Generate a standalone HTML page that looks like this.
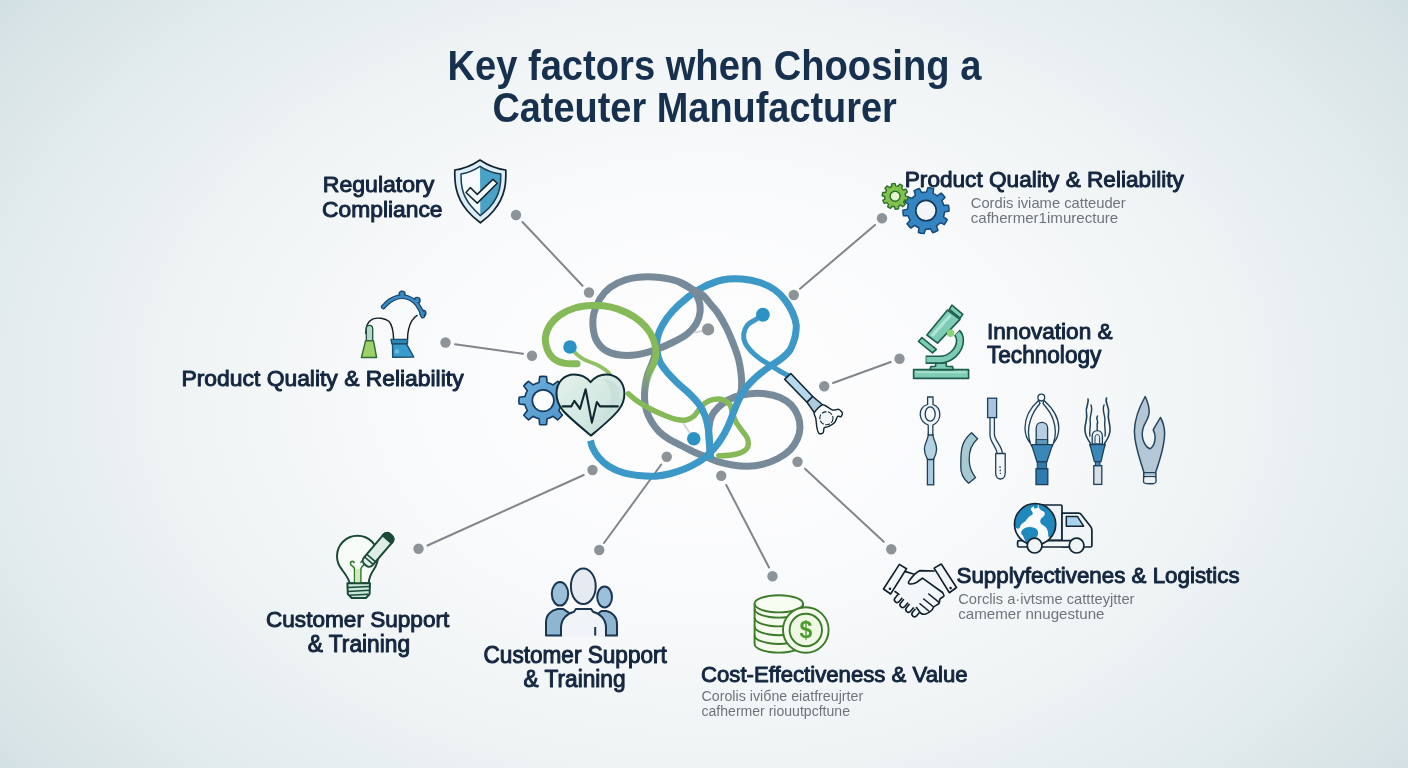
<!DOCTYPE html>
<html><head><meta charset="utf-8"><title>Key factors when Choosing a Catheter Manufacturer</title>
<style>
html,body{margin:0;padding:0;}
body{width:1408px;height:768px;overflow:hidden;background:#e9eff1;font-family:"Liberation Sans",sans-serif;}
#bg{position:absolute;left:0;top:0;width:1408px;height:768px;
background: radial-gradient(ellipse 915px 640px at 704px 390px, rgb(253.0,253.0,254.0) 0.0%, rgb(252.9,252.9,254.0) 4.2%, rgb(252.7,252.8,253.8) 8.3%, rgb(252.3,252.5,253.6) 12.5%, rgb(251.8,252.2,253.2) 16.7%, rgb(251.1,251.7,252.8) 20.8%, rgb(250.3,251.1,252.2) 25.0%, rgb(249.3,250.5,251.6) 29.2%, rgb(248.1,249.7,250.8) 33.3%, rgb(246.8,248.8,250.0) 37.5%, rgb(245.4,247.8,249.1) 41.7%, rgb(243.8,246.7,248.0) 45.8%, rgb(242.0,245.5,246.9) 50.0%, rgb(240.1,244.2,245.7) 54.2%, rgb(238.1,242.8,244.3) 58.3%, rgb(235.9,241.3,242.9) 62.5%, rgb(233.5,239.7,241.4) 66.7%, rgb(231.0,238.0,239.8) 70.8%, rgb(228.3,236.2,238.0) 75.0%, rgb(225.5,234.3,236.2) 79.2%, rgb(222.5,232.3,234.3) 83.3%, rgb(219.4,230.1,232.3) 87.5%, rgb(216.1,227.9,230.2) 91.7%, rgb(212.7,225.6,227.9) 95.8%, rgb(209.1,223.1,225.6) 100.0%);}
svg{position:absolute;left:0;top:0;will-change:transform;}
</style></head>
<body>
<div id="bg"></div>
<svg width="1408" height="768" viewBox="0 0 1408 768">
<g id="conn">
<line x1="522.5" y1="222" x2="582.5" y2="285.75" stroke="#80868c" stroke-width="2" stroke-linecap="round"/>
<circle cx="516" cy="215" r="5.2" fill="#8c9399"/>
<circle cx="589" cy="292.5" r="5.2" fill="#8c9399"/>
<line x1="875" y1="225" x2="800" y2="288.75" stroke="#80868c" stroke-width="2" stroke-linecap="round"/>
<circle cx="882" cy="218.25" r="5.2" fill="#8c9399"/>
<circle cx="793.75" cy="295" r="5.2" fill="#8c9399"/>
<line x1="455" y1="344.25" x2="523" y2="353.75" stroke="#80868c" stroke-width="2" stroke-linecap="round"/>
<circle cx="445.5" cy="342.5" r="5.2" fill="#8c9399"/>
<circle cx="532" cy="355.75" r="5.2" fill="#8c9399"/>
<line x1="890.75" y1="362" x2="833" y2="383" stroke="#80868c" stroke-width="2" stroke-linecap="round"/>
<circle cx="899.5" cy="358.75" r="5.2" fill="#8c9399"/>
<circle cx="824.25" cy="386.25" r="5.2" fill="#8c9399"/>
<line x1="427.5" y1="545.5" x2="583.75" y2="475" stroke="#80868c" stroke-width="2" stroke-linecap="round"/>
<circle cx="418.5" cy="548.75" r="5.2" fill="#8c9399"/>
<circle cx="592.5" cy="470" r="5.2" fill="#8c9399"/>
<line x1="604" y1="543" x2="661.25" y2="464.5" stroke="#80868c" stroke-width="2" stroke-linecap="round"/>
<circle cx="599.25" cy="550" r="5.2" fill="#8c9399"/>
<circle cx="666.75" cy="456.75" r="5.2" fill="#8c9399"/>
<line x1="769" y1="567.5" x2="726.25" y2="485" stroke="#80868c" stroke-width="2" stroke-linecap="round"/>
<circle cx="772.5" cy="576.25" r="5.2" fill="#8c9399"/>
<circle cx="721.25" cy="475.75" r="5.2" fill="#8c9399"/>
<line x1="883.75" y1="541.75" x2="805" y2="468.75" stroke="#80868c" stroke-width="2" stroke-linecap="round"/>
<circle cx="891.25" cy="549.25" r="5.2" fill="#8c9399"/>
<circle cx="797.5" cy="461.75" r="5.2" fill="#8c9399"/>
</g>
<defs><linearGradient id="gfade" gradientUnits="userSpaceOnUse" x1="0" y1="366" x2="0" y2="392"><stop offset="0" stop-color="#86b957"/><stop offset="1" stop-color="#86b957" stop-opacity="0"/></linearGradient></defs>
<g id="tangle" fill="none" stroke-linecap="round" stroke-linejoin="round">
<path d="M656 352C655.42 353.75 653.92 358.67 652.5 362.5C651.08 366.33 648.75 370.83 647.5 375C646.25 379.17 645.48 383.33 645 387.5C644.52 391.67 644.35 396.17 644.6 400C644.85 403.83 645.39 406.96 646.5 410.5C647.61 414.04 649.17 417.75 651.25 421.25C653.33 424.75 656.08 428.54 659 431.5C661.92 434.46 664.83 436.54 668.75 439C672.67 441.46 678.12 444 682.5 446.25C686.88 448.5 690.83 450.62 695 452.5C699.17 454.38 703.54 455.93 707.5 457.5C711.46 459.07 714.58 460.65 718.75 461.9C722.92 463.15 727.71 464.27 732.5 465C737.29 465.73 742.5 466.35 747.5 466.25C752.5 466.15 757.5 465.65 762.5 464.4C767.5 463.15 772.92 461.15 777.5 458.75C782.08 456.35 786.67 453.33 790 450C793.33 446.67 795.83 442.5 797.5 438.75C799.17 435 799.9 431.25 800 427.5C800.1 423.75 799.56 420 798.1 416.25C796.64 412.5 794.27 408.12 791.25 405C788.23 401.88 784.38 399.38 780 397.5C775.62 395.62 770 394.38 765 393.75C760 393.12 755 393.23 750 393.75C745 394.27 739.58 395.23 735 396.9C730.42 398.57 726.04 401.15 722.5 403.75C718.96 406.35 715.83 409.58 713.75 412.5C711.67 415.42 710.83 417.92 710 421.25C709.17 424.58 708.85 428.75 708.75 432.5C708.65 436.25 709.14 440 709.4 443.75C709.66 447.5 710.15 453.12 710.3 455" stroke="#778a99" stroke-width="7.0"/>
<path d="M628.5 393.75C630 395 633.92 398.75 637.5 401.25C641.08 403.75 645.62 406.46 650 408.75C654.38 411.04 659.38 413.23 663.75 415C668.12 416.77 672.5 418.57 676.25 419.4C680 420.23 683.33 420.52 686.25 420C689.17 419.48 691.67 417.92 693.75 416.25C695.83 414.58 696.88 412.19 698.75 410C700.62 407.81 702.5 404.87 705 403.1C707.5 401.33 710.83 399.98 713.75 399.4C716.67 398.82 719.79 398.67 722.5 399.6C725.21 400.53 728.33 402.64 730 405C731.67 407.36 731.46 410.83 732.5 413.75C733.54 416.67 734.58 419.58 736.25 422.5C737.92 425.42 740.62 428.54 742.5 431.25C744.38 433.96 746.67 436.04 747.5 438.75C748.33 441.46 748.54 445.21 747.5 447.5C746.46 449.79 743.96 451.25 741.25 452.5C738.54 453.75 735 454.45 731.25 455C727.5 455.55 720.83 455.67 718.75 455.8" stroke="#86b957" stroke-width="5.4"/>
<path d="M795 337.5C795.21 335.42 796.67 329.17 796.25 325C795.83 320.83 794.38 316.67 792.5 312.5C790.62 308.33 787.92 303.75 785 300C782.08 296.25 779.17 292.92 775 290C770.83 287.08 765.5 284.33 760 282.5C754.5 280.67 748.33 279.42 742 279C735.67 278.58 728.58 278.58 722 280C715.42 281.42 708.25 284.58 702.5 287.5C696.75 290.42 692.5 293.54 687.5 297.5C682.5 301.46 676.67 306.67 672.5 311.25C668.33 315.83 665 320.62 662.5 325C660 329.38 658.43 333.33 657.5 337.5C656.57 341.67 656.48 345.92 656.9 350C657.32 354.08 658.32 358.33 660 362C661.68 365.67 664.08 368.5 667 372C669.92 375.5 673.88 379.5 677.5 383C681.12 386.5 685.21 389.5 688.75 393C692.29 396.5 696.04 400.25 698.75 404C701.46 407.75 703.44 411.5 705 415.5C706.56 419.5 707.37 423.92 708.1 428C708.83 432.08 709.08 436.33 709.4 440C709.72 443.67 709.8 447.33 710 450C710.2 452.67 710.5 455 710.6 456" stroke="#3c99c7" stroke-width="7.0"/>
<path d="M600 298.75C602.71 294.38 605.83 290.62 610 287.5C614.17 284.38 619.58 281.77 625 280C630.42 278.23 636.67 277.32 642.5 276.9C648.33 276.48 654.17 276.77 660 277.5C665.83 278.23 672.29 279.38 677.5 281.25C682.71 283.12 687.71 285.62 691.25 288.75C694.79 291.88 697.29 296.04 698.75 300C700.21 303.96 700.42 308.54 700 312.5C699.58 316.46 698.33 320.21 696.25 323.75C694.17 327.29 691.46 330.62 687.5 333.75C683.54 336.88 677.92 339.79 672.5 342.5C667.08 345.21 660.83 347.98 655 350C649.17 352.02 643.33 353.77 637.5 354.6C631.67 355.43 625.42 355.77 620 355C614.58 354.23 608.96 352.5 605 350C601.04 347.5 598.23 343.75 596.25 340C594.27 336.25 593.52 331.88 593.1 327.5C592.68 323.12 592.6 318.54 593.75 313.75C594.9 308.96 597.29 303.12 600 298.75Z" stroke="#778a99" stroke-width="7.0"/>
<path d="M680 282.5C681.88 283.54 687.5 286.67 691.25 288.75C695 290.83 699.17 292.29 702.5 295C705.83 297.71 708.75 302.08 711.25 305C713.75 307.92 715 308.75 717.5 312.5C720 316.25 723.54 322.08 726.25 327.5C728.96 332.92 731.67 339.58 733.75 345C735.83 350.42 737.5 355 738.75 360C740 365 740.77 370.42 741.25 375C741.73 379.58 741.81 384.17 741.6 387.5C741.39 390.83 740.27 393.75 740 395" stroke="#778a99" stroke-width="7.0"/>
<path d="M577 363.75C574.79 363.64 567.62 363.93 563.75 363.1C559.88 362.27 556.46 360.93 553.75 358.75C551.04 356.57 548.89 353.54 547.5 350C546.11 346.46 544.98 341.67 545.4 337.5C545.82 333.33 547.57 328.75 550 325C552.43 321.25 555.83 317.83 560 315C564.17 312.17 569.58 309.57 575 308C580.42 306.43 586.67 305.78 592.5 305.6C598.33 305.42 604.38 305.75 610 306.9C615.62 308.05 621.25 310.11 626.25 312.5C631.25 314.89 636.04 317.92 640 321.25C643.96 324.58 647.5 328.54 650 332.5C652.5 336.46 654.07 340.92 655 345C655.93 349.08 656.02 353.5 655.6 357C655.18 360.5 653.68 363 652.5 366C651.32 369 649.58 372 648.5 375C647.42 378 646.58 381 646 384C645.42 387 645.17 391.5 645 393" stroke="url(#gfade)" stroke-width="7.0"/>
<path d="M570 347C571.17 348.25 574.5 352.33 577 354.5C579.5 356.67 581.58 358.25 585 360C588.42 361.75 593.96 363.23 597.5 365C601.04 366.77 604.17 369.02 606.25 370.6C608.33 372.18 609.38 373.85 610 374.5" stroke="#93c064" stroke-width="3.8"/>
<path d="M590.6 440.5C590.92 441.67 591.14 444.67 592.5 447.5C593.86 450.33 596.04 454.38 598.75 457.5C601.46 460.62 604.79 463.75 608.75 466.25C612.71 468.75 617.5 470.94 622.5 472.5C627.5 474.06 633.33 474.98 638.75 475.6C644.17 476.23 649.79 476.56 655 476.25C660.21 475.94 665 475 670 473.75C675 472.5 680.42 470.62 685 468.75C689.58 466.88 693.96 464.58 697.5 462.5C701.04 460.42 703.54 458.54 706.25 456.25C708.96 453.96 711.25 451.67 713.75 448.75C716.25 445.83 718.96 442.29 721.25 438.75C723.54 435.21 725.62 431.46 727.5 427.5C729.38 423.54 731.04 418.67 732.5 415C733.96 411.33 735 408.42 736.25 405.5C737.5 402.58 738.33 400.5 740 397.5C741.67 394.5 744.08 390.42 746.25 387.5C748.42 384.58 750.71 382.29 753 380C755.29 377.71 757.17 376.04 760 373.75C762.83 371.46 766.46 368.75 770 366.25C773.54 363.75 777.92 361.46 781.25 358.75C784.58 356.04 787.71 353.54 790 350C792.29 346.46 794.17 339.58 795 337.5" stroke="#3c99c7" stroke-width="7.0" stroke-linecap="butt"/>
<path d="M762.9 314.75C761.58 315.62 757.57 318.29 755 320C752.43 321.71 749.38 322.71 747.5 325C745.62 327.29 744.17 330.83 743.75 333.75C743.33 336.67 743.75 339.58 745 342.5C746.25 345.42 748.75 348.54 751.25 351.25C753.75 353.96 756.88 356.46 760 358.75C763.12 361.04 766.67 362.92 770 365C773.33 367.08 777 369.5 780 371.25C783 373 786.67 374.79 788 375.5" stroke="#3c99c7" stroke-width="5"/>
<line x1="689.4" y1="432.5" x2="683.5" y2="423.5" stroke="#cfd7dc" stroke-width="2"/>
<line x1="702" y1="331" x2="695" y2="332.5" stroke="#d3dadf" stroke-width="2"/>
</g>
<circle cx="570" cy="347" r="6.8" fill="#2b93c3"/>
<circle cx="762.9" cy="314.75" r="6.9" fill="#2b93c3"/>
<circle cx="693.75" cy="438.75" r="6.8" fill="#2b93c3"/>
<circle cx="708.1" cy="329.4" r="6.1" fill="#8c9399"/>
<defs><linearGradient id="hgrad" x1="0" y1="0" x2="1" y2="1"><stop offset="0" stop-color="#e3f0ec"/><stop offset="0.55" stop-color="#d3e8e2"/><stop offset="1" stop-color="#bddad3"/></linearGradient><linearGradient id="ggrad" x1="0" y1="0" x2="1" y2="1"><stop offset="0" stop-color="#6fb0dc"/><stop offset="1" stop-color="#4e93c9"/></linearGradient></defs>
<path d="M561.25 396.54L567.06 397.19A24.2 24.2 0 0 1 567.06 404.01L561.25 404.66A18.6 18.6 0 0 1 558.8 410.57L562.45 415.13A24.2 24.2 0 0 1 557.63 419.95L553.07 416.3A18.6 18.6 0 0 1 547.16 418.75L546.51 424.56A24.2 24.2 0 0 1 539.69 424.56L539.04 418.75A18.6 18.6 0 0 1 533.13 416.3L528.57 419.95A24.2 24.2 0 0 1 523.75 415.13L527.4 410.57A18.6 18.6 0 0 1 524.95 404.66L519.14 404.01A24.2 24.2 0 0 1 519.14 397.19L524.95 396.54A18.6 18.6 0 0 1 527.4 390.63L523.75 386.07A24.2 24.2 0 0 1 528.57 381.25L533.13 384.9A18.6 18.6 0 0 1 539.04 382.45L539.69 376.64A24.2 24.2 0 0 1 546.51 376.64L547.16 382.45A18.6 18.6 0 0 1 553.07 384.9L557.63 381.25A24.2 24.2 0 0 1 562.45 386.07L558.8 390.63A18.6 18.6 0 0 1 561.25 396.54Z" fill="url(#ggrad)" stroke="#153a5e" stroke-width="1.6" stroke-linejoin="round"/>
<circle cx="543.1" cy="400.6" r="10.8" fill="#fbfdfe" stroke="#153a5e" stroke-width="1.7"/>
<path d="M591 435.6 C580 426.5 569 417.5 562.5 410 C558.2 404.5 556.5 400 556.5 393.5 C556.5 382 564.5 374.4 574 374.4 C581 374.4 587 377.6 590.6 382.2 C594.2 377.6 600 374.4 606.5 374.4 C616.5 374.4 624.4 382 624.4 393.5 C624.4 400 622.5 405 619 409.5 C612.5 418 602 426.5 591 435.6Z" fill="url(#hgrad)" stroke="#0f2a33" stroke-width="2" stroke-linejoin="round"/>
<path d="M603 379 C612 379 619.5 385 619.5 394 C619.5 400 617 404.5 613 409 L600 422 L593 428 C604 418 611 409 611 397 C611 389 608 383 603 379Z" fill="#c3ddd7" opacity="0.75"/>
<polyline points="562.5,406.4 571.2,406.4 574.4,400.8 580,408.8 585.6,389.2 591.9,422.6 596.9,402 600,406.4 617.8,406.4" fill="none" stroke="#10282f" stroke-width="2.1" stroke-linejoin="round" stroke-linecap="round"/>
<g id="icons">
<path d="M480 160 C472 165.5 464 168.8 454.8 170 C454.6 178 455 183 456.2 188.5 C458 197 462 204.5 467.5 211 C471.5 215.8 476 219.5 480.4 222.8 C485 219.5 489.5 215.8 493.4 211 C498.8 204.5 502.8 197 504.6 188.5 C505.8 183 506 178 505.8 170 C496.5 168.8 488 165.5 480 160Z" fill="#dceef7" stroke="#14232e" stroke-width="1.7" stroke-linejoin="round"/>
<path d="M480 166.3 C474 170.3 468 172.8 461 174 C460.9 180 461.2 184 462.2 188.5 C463.7 195.3 466.8 201 471.3 206.3 C474.2 209.8 477.2 212.8 480.3 215.6Z" fill="#f5fafc"/>
<path d="M480 166.3 C486 170.3 492.5 172.8 500.8 174 C500.9 180 500.6 184 499.6 188.5 C498.1 195.3 495 201 490.5 206.3 C487.6 209.8 483.6 213 480.3 215.6Z" fill="#4aa2c6"/>
<path d="M480 166.3 C474 170.3 468 172.8 461 174 C460.9 180 461.2 184 462.2 188.5 C463.7 195.3 466.8 201 471.3 206.3 C474.2 209.8 477.2 212.8 480.3 215.6 C483.6 213 487.6 209.8 490.5 206.3 C495 201 498.1 195.3 499.6 188.5 C500.6 184 500.9 180 500.8 174 C492.5 172.8 486 170.3 480 166.3Z" fill="none" stroke="#1c3d55" stroke-width="1.5" stroke-linejoin="round"/>
<polygon points="466,192.5 470.4,187.6 477.25,194.4 492.9,179.4 497.25,183.3 477.25,203.1" fill="#f4f9fc" stroke="#14232e" stroke-width="1.5" stroke-linejoin="round"/>
<path d="M943.84 205.34L948.49 205.33A23.1 23.1 0 0 1 949.09 211.08L944.54 212.04A18.6 18.6 0 0 1 943.53 216.83L947.3 219.55A23.1 23.1 0 0 1 944.4 224.57L940.16 222.66A18.6 18.6 0 0 1 936.52 225.94L937.97 230.36A23.1 23.1 0 0 1 932.68 232.71L930.36 228.68A18.6 18.6 0 0 1 925.49 229.19L924.07 233.62A23.1 23.1 0 0 1 918.4 232.42L918.9 227.79A18.6 18.6 0 0 1 914.66 225.34L910.91 228.09A23.1 23.1 0 0 1 907.03 223.78L910.15 220.34A18.6 18.6 0 0 1 908.16 215.86L903.51 215.87A23.1 23.1 0 0 1 902.91 210.12L907.46 209.16A18.6 18.6 0 0 1 908.47 204.37L904.7 201.65A23.1 23.1 0 0 1 907.6 196.63L911.84 198.54A18.6 18.6 0 0 1 915.48 195.26L914.03 190.84A23.1 23.1 0 0 1 919.32 188.49L921.64 192.52A18.6 18.6 0 0 1 926.51 192.01L927.93 187.58A23.1 23.1 0 0 1 933.6 188.78L933.1 193.41A18.6 18.6 0 0 1 937.34 195.86L941.09 193.11A23.1 23.1 0 0 1 944.97 197.42L941.85 200.86A18.6 18.6 0 0 1 943.84 205.34Z" fill="#3485c1" stroke="#164a78" stroke-width="1.5" stroke-linejoin="round"/>
<circle cx="926" cy="210.6" r="10.2" fill="#f3f6f9" stroke="#143a5c" stroke-width="1.6"/>
<path d="M905.5 196.09L907.99 196.85A12.9 12.9 0 0 1 907.4 200.19L904.8 200.05A10.4 10.4 0 0 1 903.64 202.24L905.2 204.32A12.9 12.9 0 0 1 902.76 206.68L900.74 205.04A10.4 10.4 0 0 1 898.51 206.12L898.56 208.73A12.9 12.9 0 0 1 895.2 209.2L894.53 206.68A10.4 10.4 0 0 1 892.09 206.25L890.59 208.39A12.9 12.9 0 0 1 887.6 206.79L888.53 204.36A10.4 10.4 0 0 1 886.81 202.58L884.35 203.43A12.9 12.9 0 0 1 882.86 200.38L885.05 198.96A10.4 10.4 0 0 1 884.7 196.51L882.21 195.75A12.9 12.9 0 0 1 882.8 192.41L885.4 192.55A10.4 10.4 0 0 1 886.56 190.36L885 188.28A12.9 12.9 0 0 1 887.44 185.92L889.46 187.56A10.4 10.4 0 0 1 891.69 186.48L891.64 183.87A12.9 12.9 0 0 1 895 183.4L895.67 185.92A10.4 10.4 0 0 1 898.11 186.35L899.61 184.21A12.9 12.9 0 0 1 902.6 185.81L901.67 188.24A10.4 10.4 0 0 1 903.39 190.02L905.85 189.17A12.9 12.9 0 0 1 907.34 192.22L905.15 193.64A10.4 10.4 0 0 1 905.5 196.09Z" fill="#80c24b" stroke="#2f6d2e" stroke-width="1.4" stroke-linejoin="round"/>
<circle cx="895.1" cy="196.3" r="5" fill="#e6f5cd" stroke="#2f6d2e" stroke-width="1.5"/>
<path d="M365.8 334 C365.6 327 367 322 372.5 319.2 C377 317.6 384 317.6 388.8 321.3 C392.5 325 393.3 331 393.6 339" fill="none" stroke="#111e26" stroke-width="1.4"/>
<path d="M407.5 339.4 C407.6 332 409 325.5 411.8 320.8 C413.5 318.2 415 316.8 417.5 315.2" fill="none" stroke="#111e26" stroke-width="1.4"/>
<path d="M366.3 341 L366.3 328.6 C366.3 324.2 372.7 324.2 372.7 328.6 L372.7 341Z" fill="#b4d8c6" stroke="#24503f" stroke-width="1.3"/>
<polygon points="361.4,357.5 376.6,357.5 373.5,340.7 365.6,340.7" fill="#9dd069" stroke="#2f6b3a" stroke-width="1.4" stroke-linejoin="round"/>
<polygon points="392.5,343.6 406.3,343.6 413.8,357 392.7,357.3" fill="#3a9acb" stroke="#17506e" stroke-width="1.4" stroke-linejoin="round"/>
<polygon points="391,339.4 407.6,339.4 407.4,343.8 391.9,343.8" fill="#2f84b6" stroke="#17506e" stroke-width="1.4" stroke-linejoin="round"/>
<circle cx="397" cy="351.5" r="2.2" fill="#6fc6ea" opacity="0.8"/>
<circle cx="402.1" cy="294.2" r="3" fill="#3d8bbf" stroke="#17466f" stroke-width="1.3"/>
<circle cx="417.1" cy="300.4" r="3" fill="#3d8bbf" stroke="#17466f" stroke-width="1.3"/>
<circle cx="422.9" cy="313.2" r="3" fill="#3d8bbf" stroke="#17466f" stroke-width="1.3"/>
<path d="M383.3 306.9C384.42 305.85 387.43 302.27 390 300.6C392.57 298.93 395.83 297.42 398.75 296.9C401.67 296.38 404.79 296.67 407.5 297.5C410.21 298.33 412.92 300.02 415 301.9C417.08 303.77 418.7 306.4 420 308.75C421.3 311.1 422.33 314.79 422.8 316" fill="none" stroke="#17466f" stroke-width="4.9" stroke-linecap="round"/>
<path d="M383.3 306.9C384.42 305.85 387.43 302.27 390 300.6C392.57 298.93 395.83 297.42 398.75 296.9C401.67 296.38 404.79 296.67 407.5 297.5C410.21 298.33 412.92 300.02 415 301.9C417.08 303.77 418.7 306.4 420 308.75C421.3 311.1 422.33 314.79 422.8 316" fill="none" stroke="#3d8bbf" stroke-width="2.5" stroke-linecap="round"/>
<circle cx="402.1" cy="294.6" r="1.9" fill="#3d8bbf"/>
<circle cx="416.8" cy="300.8" r="1.9" fill="#3d8bbf"/>
<circle cx="422.4" cy="313.4" r="1.9" fill="#3d8bbf"/>
<rect x="913.6" y="369.6" width="55" height="8.8" fill="#7fccb6" stroke="#1c5d4e" stroke-width="1.6" stroke-linejoin="round"/>
<rect x="915.5" y="371.2" width="51" height="2" fill="#b9e8d9" opacity="0.7"/>
<path d="M930 369.6 L930.8 366.6 L935.6 366.2 L935.6 363 L946.3 363 L946.3 366.2 L952.6 366.6 L953.4 369.6Z" fill="#7fccb6" stroke="#1c5d4e" stroke-width="1.6" stroke-linejoin="round"/>
<path d="M925.6 359.7 L940 359.7 C950 359.5 959.8 351 960 340.5 C960.1 337 958.8 334.4 956.9 332.6" fill="none" stroke="#1c5d4e" stroke-width="8.4" stroke-linecap="butt" stroke-linejoin="round"/>
<path d="M926.4 359.7 L940 359.7 C950 359.5 959.8 351 960 340.5 C960.1 337 958.8 334.8 957.4 333.3" fill="none" stroke="#7fccb6" stroke-width="5.2" stroke-linecap="butt"/>
<polygon points="947.5,310 960,319.4 937.5,343.1 926.9,335" fill="#7fccb6" stroke="#1c5d4e" stroke-width="1.6" stroke-linejoin="round"/>
<polygon points="949.2,314.2 951.7,316 933,337 930.5,335.2" fill="#b9e8d9" opacity="0.85"/>
<polygon points="951.9,305.2 962.8,314.4 960,318.2 949.3,309.4" fill="#7fccb6" stroke="#1c5d4e" stroke-width="1.6" stroke-linejoin="round"/>
<polygon points="921.9,337.5 936.3,349.4 932.5,352.8 918.5,341.5" fill="#7fccb6" stroke="#1c5d4e" stroke-width="1.6" stroke-linejoin="round"/>
<circle cx="950.6" cy="333.2" r="3.7" fill="#8fd07b"/>
<rect x="927.4" y="458" width="6.3" height="26.8" fill="#a9cbe0" stroke="#1d3f57" stroke-width="1.3"/>
<path d="M928.3 434 C928.4 440 924.4 442.5 924.4 449 C924.4 454 926.5 457.5 927.6 459.5 L933.4 459.5 C934.5 457.5 936.6 454 936.6 449 C936.6 442.5 932.9 440 932.8 434 Z" fill="#b4d2e3" stroke="#1d3f57" stroke-width="1.3" stroke-linejoin="round"/>
<path d="M927.6 397 L927.6 404.5 C922.5 406 920.2 410 920.2 414.5 C920.2 419.5 924 423.5 928.2 425 L928.3 435 L932.8 435 L932.9 425 C936.5 423.5 939.8 419.5 939.8 414.5 C939.8 410 937.5 406 933 404.5 L933 397Z" fill="#eef4f8" stroke="#1d3f57" stroke-width="1.3" stroke-linejoin="round"/>
<ellipse cx="930.2" cy="414" rx="5" ry="7.2" fill="#f7fafb" stroke="#1d3f57" stroke-width="1.3"/>
<path d="M971.6 432.8 L977.6 438.8 C971.5 444 969 452 969.2 460 C969.4 467 971.8 473 975.6 477.6 L968.6 483.2 C963 478.5 960.4 473 960.8 466 C961 459 960.4 452 962.6 445.5 C964.4 440 967.6 436 971.6 432.8Z" fill="#a6cad0" stroke="#1d3f57" stroke-width="1.3" stroke-linejoin="round"/>
<path d="M990 417 L990 435 C990 442 996 446 997.5 454 L1002.5 454 C1002 445 994.4 441 994.4 434 L994.4 417Z" fill="#f2f6f9" stroke="#1d3f57" stroke-width="1.3" stroke-linejoin="round"/>
<rect x="987.6" y="398.2" width="9" height="19.4" fill="#a8c4e0" stroke="#1d3f57" stroke-width="1.3"/>
<path d="M995.7 453.5 L1005.2 453.5 L1005.2 473 C1005.2 481 995.7 481 995.7 473Z" fill="#f4f7fa" stroke="#1d3f57" stroke-width="1.3" stroke-linejoin="round"/>
<line x1="1000" y1="466" x2="1000.4" y2="474" stroke="#1d3f57" stroke-width="1.1" stroke-dasharray="2 1.4"/>
<circle cx="1041.3" cy="397.6" r="3.4" fill="#f4f8fa" stroke="#1d3f57" stroke-width="1.3"/>
<path d="M1038.5 400.5 C1030 408 1025 418 1025 428 C1025 435 1027.5 440 1030.5 443.5 C1027.8 436 1027.8 428 1030.5 420 C1032.5 413.5 1036 408 1040 403.5Z" fill="#f2f6f9" stroke="#1d3f57" stroke-width="1.3" stroke-linejoin="round"/>
<path d="M1044 400.5 C1052.5 408 1058.8 418 1058.8 428 C1058.8 435 1056.3 440 1053.3 443.5 C1056 436 1056 428 1053.3 420 C1051.3 413.5 1047 408 1043 403.5Z" fill="#f2f6f9" stroke="#1d3f57" stroke-width="1.3" stroke-linejoin="round"/>
<path d="M1036.2 444 L1036.2 428 C1036.2 420.5 1047.6 420.5 1047.6 428 L1047.6 444Z" fill="#b6cfe2" stroke="#1d3f57" stroke-width="1.3"/>
<rect x="1036.2" y="439.6" width="11.4" height="4.8" fill="#5f9cc4" stroke="#1d3f57" stroke-width="1"/>
<polygon points="1031,444.6 1053,444.6 1051.6,447.4 1046.8,462 1037,462 1032.4,447.4" fill="#3b87b8" stroke="#1d3f57" stroke-width="1.3" stroke-linejoin="round"/>
<rect x="1037.2" y="462" width="9.4" height="7" fill="#3279ac" stroke="#1d3f57" stroke-width="1"/>
<rect x="1036" y="468.8" width="11.8" height="15.8" fill="#2f7bb0" stroke="#1d3f57" stroke-width="1.3"/>
<path d="M1088 399 C1089.5 403 1085 407 1086.5 413 C1088 420 1084 424 1085 431 C1085.6 436 1088 440 1090.5 443.5" fill="none" stroke="#1d3f57" stroke-width="1.6" stroke-linecap="round"/>
<path d="M1091 405 C1093.5 411 1089 416 1090.2 422 C1091 427 1088.8 431 1090 436" fill="none" stroke="#1d3f57" stroke-width="1.4" stroke-linecap="round"/>
<path d="M1106.5 398 C1104.5 403 1109.8 407 1108.5 413 C1107 420 1111 424 1110 431 C1109.4 436 1107 440 1104.5 443.5" fill="none" stroke="#1d3f57" stroke-width="1.6" stroke-linecap="round"/>
<path d="M1104 405 C1101.5 411 1106 416 1104.8 422 C1104 427 1106.2 431 1105 436" fill="none" stroke="#1d3f57" stroke-width="1.4" stroke-linecap="round"/>
<path d="M1097.5 416 C1095 419 1099.5 421 1097 424.5 M1097.2 424.5 L1097.2 430" fill="none" stroke="#1d3f57" stroke-width="1.4" stroke-linecap="round"/>
<path d="M1092.2 444 L1092.2 436 C1092.2 428.8 1102.4 428.8 1102.4 436 L1102.4 444Z" fill="#e9f0f5" stroke="#1d3f57" stroke-width="1.3"/>
<path d="M1095 443 L1095 437.5 C1095 433.6 1099.6 433.6 1099.6 437.5 L1099.6 443" fill="none" stroke="#1d3f57" stroke-width="1"/>
<polygon points="1089.6,444.6 1105.4,444.6 1104.4,447.2 1101,461.6 1094.4,461.6 1090.6,447.2" fill="#3b87b8" stroke="#1d3f57" stroke-width="1.3" stroke-linejoin="round"/>
<rect x="1093.8" y="465.6" width="8" height="18.8" fill="#d6dfe5" stroke="#1d3f57" stroke-width="1.3"/>
<rect x="1095.4" y="461.8" width="4.6" height="4" fill="#3b87b8" stroke="#1d3f57" stroke-width="1"/>
<path d="M1145.2 396.5 C1141 404 1134.6 418 1134.4 431 C1134.3 446 1141 462 1143.8 472 L1143.6 481.5 C1143.6 484.6 1156 484.6 1156 481.5 L1155.8 472 C1159.5 461 1164.8 446 1164.6 433 C1164.5 427 1162.5 421 1160.4 417.5 C1158.5 421 1155 426 1153.2 430 C1156.8 436 1155 446 1150 448.8 C1144.5 446.5 1140.6 438 1143 428.5 C1144.2 423 1149 419 1149.2 412 C1149.3 406 1147 400.5 1145.2 396.5Z" fill="#b3c7d6" stroke="#23445e" stroke-width="1.5" stroke-linejoin="round"/>
<path d="M1143.8 472.6 L1155.8 472.6 M1143.7 476.6 L1155.9 476.6" stroke="#23445e" stroke-width="1.1" fill="none"/>
<rect x="1144.4" y="477.2" width="10.8" height="5.6" rx="1.5" fill="#eef3f6"/>
<rect x="1036" y="505" width="26" height="35.4" rx="1.2" fill="#edf3f7" stroke="#102536" stroke-width="1.7"/>
<path d="M1062 513.2 L1078.6 513.2 C1080 513.2 1080.8 513.8 1081.6 514.9 L1090.6 526.6 C1091.6 527.9 1091.9 528.8 1091.9 530.2 L1091.9 545.6 C1091.9 546.5 1091.4 547 1090.5 547 L1062 547Z" fill="#f1f5f8" stroke="#102536" stroke-width="1.7" stroke-linejoin="round"/>
<polygon points="1066.3,516.4 1077.4,516.4 1083.6,526.2 1066.3,526.2" fill="#a9d3ea" stroke="#102536" stroke-width="1.5" stroke-linejoin="round"/>
<rect x="1017.6" y="540.6" width="56" height="6.4" rx="1.5" fill="#f1f5f8" stroke="#102536" stroke-width="1.7"/>
<g transform="translate(0.1 1.5)">
<clipPath id="gclip"><circle cx="1035" cy="522.8" r="20.2"/></clipPath>
<circle cx="1035" cy="522.8" r="20.6" fill="#f7fbfd"/>
<g clip-path="url(#gclip)" fill="#2088bc">
<path d="M1013 515 C1015 506 1024 500.5 1034 501 C1036 503 1033 505.5 1031 506.5 C1029.5 509 1033.5 510 1032.5 513 C1029 514.5 1027.5 516.5 1025.5 519.5 C1023 521.5 1020.5 522.5 1019.5 526.5 C1017 528.5 1014.5 526 1013.5 522Z"/>
<path d="M1021.5 529.5 C1024 525.5 1030 524.5 1034.5 526.5 C1038.5 528 1039 532 1036.5 535.5 C1033 537.5 1031.5 541 1030 546 C1026 543 1024.5 538 1023 534.5 C1021 532.5 1020.5 531 1021.5 529.5Z"/>
<path d="M1038.5 503.5 C1046 502 1053 507 1056 513.5 C1058 520 1057.5 528 1055 534.5 C1052.5 537.5 1050 537.5 1048 534.5 C1048.5 529.5 1047 526 1043.5 524 C1040 522.5 1039 519.5 1041.5 516.5 C1044.5 514.5 1046 512 1043.5 510 C1040.5 509 1038 506.5 1038.5 503.5Z"/>
<path d="M1033 502 L1038 501.5 L1037.5 506.5 L1034 507Z"/>
</g>
<circle cx="1035" cy="522.8" r="20.6" fill="none" stroke="#102536" stroke-width="1.7"/>
</g>
<circle cx="1034.6" cy="545.6" r="7.4" fill="#eff4f7" stroke="#102536" stroke-width="1.7"/>
<circle cx="1076.6" cy="545.6" r="7.4" fill="#eff4f7" stroke="#102536" stroke-width="1.7"/>
<rect x="896.3" y="591.9" width="5.4" height="11.2" rx="2.7" transform="rotate(40 899 597.5)" fill="#f3f7fa" stroke="#0e1e2c" stroke-width="1.6"/>
<rect x="901.92" y="596.9" width="5.4" height="11.2" rx="2.7" transform="rotate(40 904.62 602.5)" fill="#f3f7fa" stroke="#0e1e2c" stroke-width="1.6"/>
<rect x="907.67" y="601.65" width="5.4" height="11.2" rx="2.7" transform="rotate(40 910.38 607.25)" fill="#f3f7fa" stroke="#0e1e2c" stroke-width="1.6"/>
<rect x="913.8" y="606.15" width="5.4" height="11.2" rx="2.7" transform="rotate(40 916.5 611.75)" fill="#f3f7fa" stroke="#0e1e2c" stroke-width="1.6"/>
<polygon points="905.62,571.62 913.5,574 920,570.62 934.38,570.62 945,591 943.25,596.25 939.5,600 938.25,603.75 933.25,607.5 930.75,610.62 925.25,614 921,613.5 909.38,603.75 897.75,594 895.62,588.75" fill="#f3f7fa" stroke="none"/>
<path d="M905.62 571.62 L913.5 574" stroke="#0e1e2c" stroke-width="1.6" fill="none" stroke-linecap="round"/>
<path d="M934.38 571 L920 570.62 C916.25 571.88 913.12 575 908.75 581.62 C907.5 584 910 585.25 916.5 582.5 L922.5 578.12 L942.5 592.5" fill="#f3f7fa" stroke="#0e1e2c" stroke-width="1.6" stroke-linejoin="round" stroke-linecap="round"/>
<path d="M942.5 592.5C942.67 592.91 944.29 595.24 944 596C943.71 596.76 940.58 598.12 940 599C939.42 599.88 939.7 602.6 939 603.5C938.3 604.4 934.88 605.93 934 606.75C933.12 607.57 932.46 609.65 931.5 610.5C930.54 611.35 926.95 613.65 925.75 614C924.55 614.35 922.33 614.26 921.25 613.5C920.17 612.74 917.05 608.2 916.5 607.5" fill="none" stroke="#0e1e2c" stroke-width="1.6" stroke-linejoin="round" stroke-linecap="round"/>
<line x1="928.75" y1="594" x2="938.5" y2="601.88" stroke="#0e1e2c" stroke-width="1.6" stroke-linecap="round"/>
<line x1="923.75" y1="599" x2="933.12" y2="606.5" stroke="#0e1e2c" stroke-width="1.6" stroke-linecap="round"/>
<line x1="920" y1="603.75" x2="928.75" y2="611" stroke="#0e1e2c" stroke-width="1.6" stroke-linecap="round"/>
<line x1="895" y1="591.5" x2="899" y2="594.38" stroke="#0e1e2c" stroke-width="1.6" stroke-linecap="round"/>
<polygon points="899.38,564.38 906.5,568.75 890.62,594 883.5,589" fill="#f3f7fa" stroke="#0e1e2c" stroke-width="1.6" stroke-linejoin="round"/>
<polygon points="934.12,568.12 941.25,564 956.5,587.5 949.38,592.75" fill="#f3f7fa" stroke="#0e1e2c" stroke-width="1.6" stroke-linejoin="round"/>
<circle cx="890" cy="588.75" r="1.3" fill="#0e1e2c"/>
<circle cx="950.62" cy="588.12" r="1.3" fill="#0e1e2c"/>
<path d="M754.6 603.8 L754.6 644.0 A24.2 8.6 0 0 0 803 644.0 L803 603.8Z" fill="#f4fbec" stroke="#3c7a2a" stroke-width="1.9" stroke-linejoin="round"/>
<path d="M754.6 609 A24.2 8.6 0 0 0 803 609" fill="none" stroke="#3c7a2a" stroke-width="1.9"/>
<path d="M754.6 617.8 A24.2 8.6 0 0 0 803 617.8" fill="none" stroke="#3c7a2a" stroke-width="1.9"/>
<path d="M754.6 626.6 A24.2 8.6 0 0 0 803 626.6" fill="none" stroke="#3c7a2a" stroke-width="1.9"/>
<path d="M754.6 635.4 A24.2 8.6 0 0 0 803 635.4" fill="none" stroke="#3c7a2a" stroke-width="1.9"/>
<ellipse cx="778.8" cy="603.8" rx="24.2" ry="8.6" fill="#f8fdf2" stroke="#3c7a2a" stroke-width="1.9"/>
<circle cx="805.8" cy="630" r="22.8" fill="#f4fbec" stroke="#3c7a2a" stroke-width="1.9"/>
<circle cx="805.8" cy="630" r="16.2" fill="#eef8e2" stroke="#3c7a2a" stroke-width="1.9"/>
<text x="805.8" y="638" font-family="'Liberation Sans', sans-serif" font-size="23" font-weight="bold" fill="#4e9a2e" text-anchor="middle">$</text>
<path d="M546 635.6 L546 622 C546 615 551 610.2 557.5 608.9 L563 608.9 L570 613.5 L570 635.6Z" fill="#8fb6d1" stroke="#1b3550" stroke-width="2.0" stroke-linejoin="round"/>
<path d="M617 635.6 L617 624 C617 617 612.5 612.2 606.5 611 L601.5 611 L596 615 L596 635.6Z" fill="#8fb6d1" stroke="#1b3550" stroke-width="2.0" stroke-linejoin="round"/>
<ellipse cx="560" cy="593.8" rx="8.2" ry="11.8" fill="#9bc0da" stroke="#1b3550" stroke-width="2.0"/>
<ellipse cx="604.6" cy="597" rx="7.4" ry="10.4" fill="#9bc0da" stroke="#1b3550" stroke-width="2.0"/>
<path d="M561 636 L561 628 C561 619 567 613.5 574 611.8 L576 608.9 L591 608.9 L593 611.8 C600 613.5 606 619 606 628 L606 636" fill="#f0f4f8" stroke="#1b3550" stroke-width="2.0" stroke-linejoin="round"/>
<rect x="562" y="630" width="43" height="7" fill="#f0f4f8"/>
<line x1="595.2" y1="627" x2="595.2" y2="635.6" stroke="#1b3550" stroke-width="2.0"/>
<ellipse cx="583.3" cy="586.3" rx="12.4" ry="17.8" fill="#e6ebf1" stroke="#1b3550" stroke-width="2.0"/>
<path d="M349.5 583.3 C349.4 579.5 346 575 342.2 570 C338.5 565.5 337 561 337 556.3 C337 545 346 535.7 357.5 535.7 C369 535.7 378 545 378 556.3 C378 561 376.5 565.5 373.8 569.5 C370.5 574.5 368.8 579.5 368.7 583.3Z" fill="#f7fbf8" stroke="#1c4a38" stroke-width="2.0" stroke-linejoin="round"/>
<path d="M354.6 583 L354.6 569 M360.8 583 L360.8 569" stroke="#2f7a2c" stroke-width="1.6" fill="none"/>
<rect x="355.2" y="569" width="5" height="14" fill="#d3eabf"/>
<path d="M354.6 569.5 C354.8 565.5 349.8 566.5 350.4 563 C351 560.5 354 561 354.4 563.2 M360.8 569.5 C360.6 565.5 365 566 364.6 562.6 C364 560.2 361 560.6 360.8 563" stroke="#2f7a2c" stroke-width="1.6" fill="none"/>
<path d="M347.4 583.3 L370 583.3 L369.6 594 L366 598 L351.6 598 L347.8 594Z" fill="#c9e8d9" stroke="#1c4a38" stroke-width="2.0" stroke-linejoin="round"/>
<path d="M347.6 587.4 L369.8 586.4 M347.8 591.4 L369.7 590.2 M349.5 595.2 L368 594.2" stroke="#1c4a38" stroke-width="1.5" fill="none"/>
<g transform="rotate(-49.5 378 550)"><rect x="358.5" y="544.2" width="39.5" height="11.6" rx="4.5" fill="#dfeee4" stroke="#1c4a38" stroke-width="2.0"/><path d="M392 544.2 L393.5 544.2 C399.5 544.2 399.5 555.8 393.5 555.8 L392 555.8Z" fill="#1c4a38" stroke="#1c4a38" stroke-width="2.0" stroke-linejoin="round"/><path d="M364 544.4 L364 555.6 M367.4 544.4 L367.4 555.6" stroke="#1c4a38" stroke-width="1.6"/></g>
<polygon points="790.8,373.5 812.7,396.5 807,402.2 784.6,379.3" fill="#b7d7ec" stroke="#10242f" stroke-width="1.6" stroke-linejoin="round"/>
<polygon points="812.7,396.5 822.6,404.8 814.3,412.6 807,402.2" fill="#aecadd" stroke="#10242f" stroke-width="1.5" stroke-linejoin="round"/>
<path d="M822.6 404.8C825.03 404.45 830.35 409.4 832.5 410C834.65 410.6 837.43 408.89 838.75 409.3C840.07 409.71 842.13 412.1 842.4 413.1C842.67 414.1 841.43 416.38 840.8 416.8C840.17 417.22 838.53 415.49 837.7 416.25C836.87 417.01 835.85 421.11 834.6 422.5C833.35 423.89 829.69 426.01 828.3 426.7C826.91 427.39 824.89 426.87 824.2 427.7C823.51 428.53 823.79 432.14 823.1 432.9C822.41 433.66 819.83 434.09 819 433.4C818.17 432.71 817.33 429.71 816.9 427.7C816.47 425.69 816.15 420.31 815.8 418.3C815.45 416.29 813.39 414.4 814.3 412.6C815.21 410.8 820.17 405.15 822.6 404.8Z" fill="#fbfdfe" stroke="#10242f" stroke-width="1.4" stroke-linejoin="round"/>
<circle cx="826.4" cy="418.2" r="6.6" fill="#f1f5f8" stroke="#10242f" stroke-width="1.1" stroke-dasharray="5 1.5"/>
</g>
<g id="texts" font-family="'Liberation Sans', sans-serif">
<text x="447.41" y="79.5" font-size="42.51" font-weight="bold" fill="#16304e" textLength="533.94" lengthAdjust="spacingAndGlyphs">Key factors when Choosing a</text>
<text x="492.41" y="122" font-size="42.51" font-weight="bold" fill="#16304e" textLength="404.44" lengthAdjust="spacingAndGlyphs">Cateuter Manufacturer</text>
<text x="322.76" y="191.75" font-size="22.9" font-weight="normal" fill="#14263f" textLength="111.56" lengthAdjust="spacingAndGlyphs" stroke="#14263f" stroke-width="1" stroke-linejoin="round">Regulatory</text>
<text x="322.01" y="217" font-size="22.9" font-weight="normal" fill="#14263f" textLength="120.56" lengthAdjust="spacingAndGlyphs" stroke="#14263f" stroke-width="1" stroke-linejoin="round">Compliance</text>
<text x="904.77" y="187.25" font-size="22.69" font-weight="normal" fill="#14263f" textLength="279.04" lengthAdjust="spacingAndGlyphs" stroke="#14263f" stroke-width="0.99" stroke-linejoin="round">Product Quality &amp; Reliability</text>
<text x="970.73" y="208" font-size="15.41" font-weight="normal" fill="#6d747b" textLength="155.01" lengthAdjust="spacingAndGlyphs">Cordis iviame catteuder</text>
<text x="970.73" y="222.5" font-size="15.41" font-weight="normal" fill="#6d747b" textLength="147.51" lengthAdjust="spacingAndGlyphs">cafhermer1imurecture</text>
<text x="181.51" y="386.25" font-size="22.9" font-weight="normal" fill="#14263f" textLength="282.06" lengthAdjust="spacingAndGlyphs" stroke="#14263f" stroke-width="1" stroke-linejoin="round">Product Quality &amp; Reliability</text>
<text x="987.01" y="338.75" font-size="22.9" font-weight="normal" fill="#14263f" textLength="125.56" lengthAdjust="spacingAndGlyphs" stroke="#14263f" stroke-width="1" stroke-linejoin="round">Innovation &amp;</text>
<text x="986.99" y="363" font-size="23.24" font-weight="normal" fill="#14263f" textLength="114.33" lengthAdjust="spacingAndGlyphs" stroke="#14263f" stroke-width="1.01" stroke-linejoin="round">Technology</text>
<text x="956.51" y="583" font-size="22.9" font-weight="normal" fill="#14263f" textLength="283.06" lengthAdjust="spacingAndGlyphs" stroke="#14263f" stroke-width="1" stroke-linejoin="round">Supplyfectivenes &amp; Logistics</text>
<text x="958.23" y="604.25" font-size="15.41" font-weight="normal" fill="#6d747b" textLength="176.26" lengthAdjust="spacingAndGlyphs">Corclis a·ivtsme cattteyjtter</text>
<text x="958.23" y="618.75" font-size="15.41" font-weight="normal" fill="#6d747b" textLength="146.26" lengthAdjust="spacingAndGlyphs">camemer nnugestune</text>
<text x="266.01" y="626.75" font-size="22.9" font-weight="normal" fill="#14263f" textLength="183.31" lengthAdjust="spacingAndGlyphs" stroke="#14263f" stroke-width="1" stroke-linejoin="round">Customer Support</text>
<text x="307.74" y="652" font-size="23.24" font-weight="normal" fill="#14263f" textLength="102.33" lengthAdjust="spacingAndGlyphs" stroke="#14263f" stroke-width="1.01" stroke-linejoin="round">&amp; Training</text>
<text x="483.5" y="662.5" font-size="23.1" font-weight="normal" fill="#14263f" textLength="183.32" lengthAdjust="spacingAndGlyphs" stroke="#14263f" stroke-width="1.01" stroke-linejoin="round">Customer Support</text>
<text x="523.49" y="687" font-size="23.24" font-weight="normal" fill="#14263f" textLength="102.08" lengthAdjust="spacingAndGlyphs" stroke="#14263f" stroke-width="1.01" stroke-linejoin="round">&amp; Training</text>
<text x="701.02" y="681.6" font-size="22.69" font-weight="normal" fill="#14263f" textLength="266.54" lengthAdjust="spacingAndGlyphs" stroke="#14263f" stroke-width="0.99" stroke-linejoin="round">Cost-Effectiveness &amp; Value</text>
<text x="701.49" y="700.75" font-size="15.26" font-weight="normal" fill="#6d747b" textLength="161.74" lengthAdjust="spacingAndGlyphs">Corolis iviбne eiatfreujrter</text>
<text x="701.49" y="715.75" font-size="15.26" font-weight="normal" fill="#6d747b" textLength="148.49" lengthAdjust="spacingAndGlyphs">cafhermer riouutpcftune</text>
</g>
</svg>
</body></html>
